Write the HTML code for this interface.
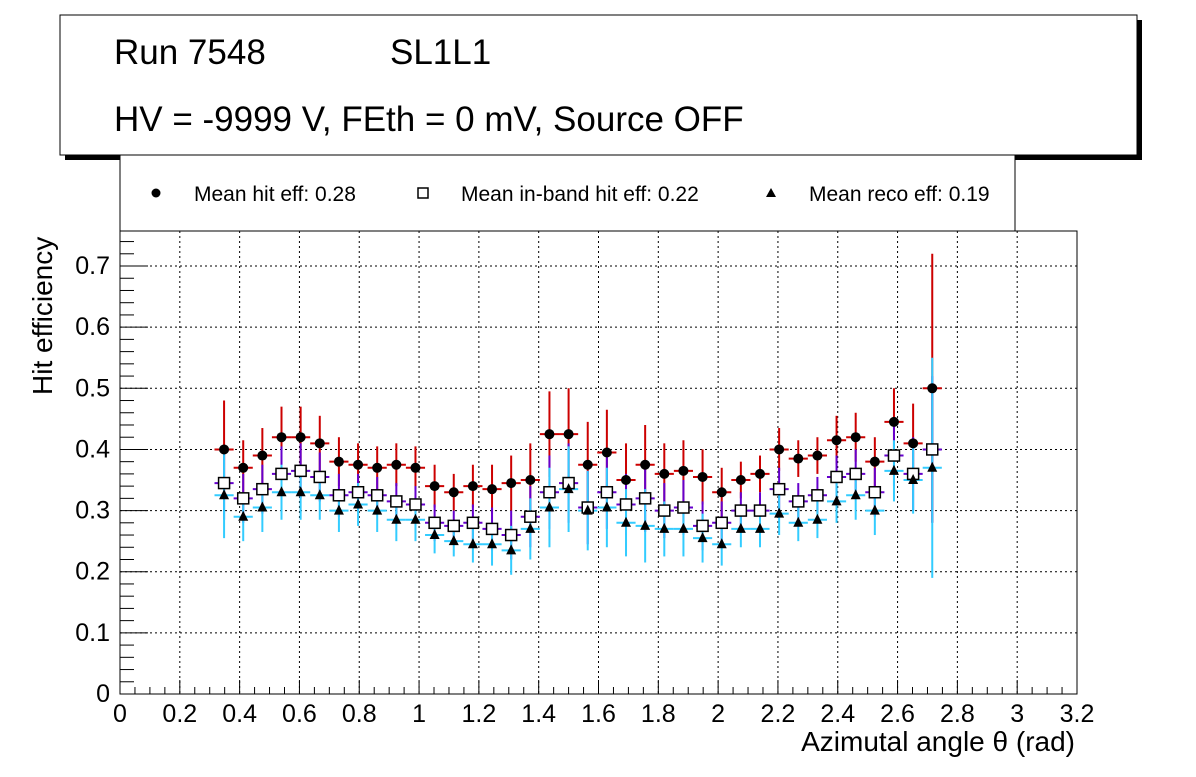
<!DOCTYPE html>
<html><head><meta charset="utf-8"><style>
body{margin:0;background:#fff;font-family:"Liberation Sans",sans-serif}
</style></head><body>
<svg id="c" width="1196" height="772" xmlns="http://www.w3.org/2000/svg" font-family="Liberation Sans, sans-serif">
<rect x="65" y="20" width="1077" height="140" fill="#000"/>
<rect x="60" y="15" width="1077" height="140" fill="#fff" stroke="#000" stroke-width="1"/>
<text x="114" y="64" font-size="35">Run 7548</text>
<text x="390" y="64" font-size="35">SL1L1</text>
<text x="114" y="131" font-size="35">HV = -9999 V, FEth = 0 mV, Source OFF</text>
<rect x="120" y="155" width="895" height="76" fill="#fff" stroke="#000"/>
<g><circle cx="156" cy="193" r="4.5" fill="#000"/><text x="194" y="201" font-size="21">Mean hit  eff: 0.28</text></g>
<g><rect x="418" y="188" width="10" height="10" fill="#fff" stroke="#000" stroke-width="1.5"/><text x="461" y="201" font-size="21">Mean in-band hit eff: 0.22</text></g>
<g><polygon points="771,188 776,197 766,197" fill="#000"/><text x="809" y="201" font-size="21">Mean reco eff: 0.19</text></g>
<rect x="120" y="231" width="957" height="463" fill="none" stroke="#000"/>
<g id="grid"></g><g id="axes"></g><g id="marks"></g>
<text x="1075" y="751" font-size="28" text-anchor="end">Azimutal angle θ (rad)</text>
<text transform="translate(52,395) rotate(-90)" font-size="28">Hit efficiency</text>
</svg>
<script>
const hitVals=[0.40,0.37,0.39,0.42,0.42,0.41,0.38,0.375,0.37,0.375,0.37,0.34,0.33,0.34,0.335,0.345,0.35,0.425,0.425,0.375,0.395,0.35,0.375,0.36,0.365,0.355,0.33,0.35,0.36,0.40,0.385,0.39,0.415,0.42,0.38,0.445,0.41,0.50];
const hitErr=[0.08,0.045,0.045,0.05,0.05,0.045,0.04,0.035,0.035,0.035,0.035,0.035,0.03,0.035,0.04,0.045,0.06,0.07,0.075,0.07,0.07,0.06,0.065,0.05,0.05,0.045,0.04,0.03,0.03,0.035,0.03,0.03,0.04,0.04,0.04,0.055,0.065,0.22];
const bandVals=[0.345,0.32,0.335,0.36,0.365,0.355,0.325,0.33,0.325,0.315,0.31,0.28,0.275,0.28,0.27,0.26,0.29,0.33,0.345,0.305,0.33,0.31,0.32,0.30,0.305,0.275,0.28,0.30,0.30,0.335,0.315,0.325,0.355,0.36,0.33,0.39,0.36,0.40];
const bandErr=[0.06,0.04,0.04,0.045,0.045,0.04,0.035,0.03,0.03,0.03,0.03,0.03,0.025,0.03,0.035,0.04,0.05,0.06,0.065,0.06,0.06,0.05,0.055,0.045,0.045,0.04,0.035,0.03,0.03,0.035,0.03,0.03,0.035,0.04,0.04,0.05,0.06,0.12];
const recoVals=[0.325,0.29,0.305,0.33,0.33,0.325,0.30,0.31,0.30,0.285,0.285,0.26,0.25,0.245,0.245,0.235,0.27,0.305,0.335,0.30,0.305,0.28,0.275,0.27,0.27,0.255,0.245,0.27,0.27,0.295,0.28,0.285,0.315,0.325,0.30,0.365,0.35,0.37];
const recoErr=[0.07,0.04,0.04,0.045,0.045,0.04,0.035,0.035,0.035,0.035,0.035,0.03,0.025,0.03,0.035,0.04,0.05,0.065,0.07,0.065,0.065,0.055,0.06,0.045,0.045,0.04,0.035,0.03,0.03,0.035,0.03,0.03,0.035,0.04,0.04,0.05,0.055,0.18];
const x0=0.348, dx=0.064;
const xTicks=[0,0.2,0.4,0.6,0.8,1,1.2,1.4,1.6,1.8,2,2.2,2.4,2.6,2.8,3,3.2];
const yTicks=[0,0.1,0.2,0.3,0.4,0.5,0.6,0.7];
const X=v=>120+v*957/3.2, Y=v=>694-v*611.4;
const NS="http://www.w3.org/2000/svg";
function mk(t,a,p){const e=document.createElementNS(NS,t);for(const k in a)e.setAttribute(k,a[k]);p.appendChild(e);return e;}
const grid=document.getElementById('grid'),axes=document.getElementById('axes'),marks=document.getElementById('marks');
xTicks.forEach((t,i)=>{
 if(i>0&&i<xTicks.length-1){const g=mk('line',{x1:X(t),x2:X(t),y1:231,y2:694,stroke:'#000','stroke-dasharray':'2,3','stroke-width':1},grid);
 
 }
 mk('line',{x1:X(t),x2:X(t),y1:694,y2:680,stroke:'#000'},axes);
 const l=mk('text',{x:X(t),y:722,'font-size':25,'text-anchor':'middle'},axes);l.textContent=String(t);
 
 
 if(i<xTicks.length-1)for(let k=1;k<4;k++){mk('line',{x1:X(t+k*0.05),x2:X(t+k*0.05),y1:694,y2:687,stroke:'#000'},axes);}
});
yTicks.forEach((t,i)=>{
 if(i>0){const g=mk('line',{x1:120,x2:1077,y1:Y(t),y2:Y(t),stroke:'#000','stroke-dasharray':'2,3','stroke-width':1},grid);
 
 }
 mk('line',{x1:120,x2:148,y1:Y(t),y2:Y(t),stroke:'#000'},axes);
 const l=mk('text',{x:110,y:Y(t)+8,'font-size':25,'text-anchor':'end'},axes);l.textContent=String(t);
 
 
 for(let k=1;k<5;k++){const v=t+k*0.02;if(v<0.757)mk('line',{x1:120,x2:134,y1:Y(v),y2:Y(v),stroke:'#000'},axes);}
});
function errs(vals,err,col,name){
 vals.forEach((v,i)=>{const x=X(x0+i*dx);
  const g=mk('g',{},marks);
  
  
  mk('line',{x1:x,x2:x,y1:Y(v-err[i]),y2:Y(v+err[i]),stroke:col,'stroke-width':2},g);
  mk('line',{x1:X(x0+(i-0.5)*dx),x2:X(x0+(i+0.5)*dx),y1:Y(v),y2:Y(v),stroke:col,'stroke-width':2},g);
 });
}
errs(hitVals,hitErr,'#cc0000','hit');
errs(bandVals,bandErr,'#6600cc','inband');
errs(recoVals,recoErr,'#33ccff','reco');
hitVals.forEach((v,i)=>{const e=mk('circle',{cx:X(x0+i*dx),cy:Y(v),r:5,fill:'#000'},marks);
 
 });
bandVals.forEach((v,i)=>{const x=X(x0+i*dx),y=Y(v);const e=mk('rect',{x:x-5.5,y:y-5.5,width:11,height:11,fill:'#fff',stroke:'#000','stroke-width':1.5},marks);
 
 });
recoVals.forEach((v,i)=>{const x=X(x0+i*dx),y=Y(v);const e=mk('polygon',{points:`${x},${y-6} ${x+5},${y+4} ${x-5},${y+4}`,fill:'#000'},marks);
 
 });
</script>
</body></html>
